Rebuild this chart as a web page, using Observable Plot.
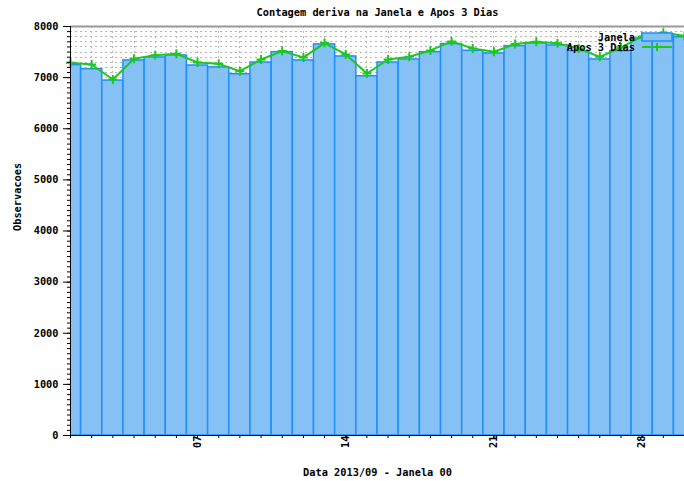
<!DOCTYPE html>
<html>
<head>
<meta charset="utf-8">
<script src="https://cdn.jsdelivr.net/npm/d3@7"></script>
<script src="https://cdn.jsdelivr.net/npm/@observablehq/plot@0.6"></script>
<style>
  html, body { margin: 0; padding: 0; background: white; }
  svg { display: block; }
</style>
</head>
<body>
<div id="chart"></div>
<script>
const days = d3.range(1, 31);
const janela = [7244, 7165, 6943, 7336, 7395, 7434, 7237, 7200, 7067, 7296,
                7499, 7336, 7650, 7414, 7028, 7296, 7355, 7499, 7656, 7525,
                7473, 7617, 7670, 7630, 7520, 7355, 7520, 7765, 7846, 7790];
const apos3 = [7290, 7257, 6963, 7368, 7440, 7467, 7296, 7270, 7126, 7355,
               7519, 7395, 7676, 7453, 7080, 7355, 7407, 7532, 7709, 7571,
               7505, 7656, 7702, 7670, 7570, 7407, 7590, 7805, 7878, 7815];
const xMajorTicks = [7, 14, 21, 28];
const yMajorTicks = d3.range(0, 8001, 1000);
const yMinorTicks = d3.range(0, 8001, 100);
const seriesNames = ["Janela", "Apos 3 Dias"];
const title = "Contagem deriva na Janela e Apos 3 Dias";
const xLabel = "Data 2013/09 - Janela 00";
const yLabel = "Observacoes";

const barColor = "#1e8fff";
const barFill = "#86c1f5";
const lineColor = "#1cc81c";

const table = days.map((d, i) => ({day: d, janela: janela[i], apos: apos3[i]}));
const font = "DejaVu Sans Mono";
const fs = 10.3;

const chart = Plot.plot({
  width: 684,
  height: 481,
  marginLeft: 70,
  marginRight: 0,
  marginTop: 26,
  marginBottom: 46,
  style: {fontFamily: font, fontWeight: "bold", fontSize: fs + "px", background: "white", color: "black"},
  x: {domain: [1, 30]},
  y: {domain: [0, 8000]},
  marks: [
    Plot.gridY(yMinorTicks, {stroke: "#b8b8b8", strokeOpacity: 1, strokeDasharray: "2,3", shapeRendering: "crispEdges"}),
    Plot.gridX(days, {stroke: "#b8b8b8", strokeOpacity: 1, strokeDasharray: "2,3", shapeRendering: "crispEdges"}),
    Plot.rectY(table, {x1: d => d.day - 0.5, x2: d => d.day + 0.5, y: "janela",
      fill: barFill, stroke: barColor, strokeWidth: 1.5, clip: true}),
    Plot.line(table, {x: "day", y: "apos", stroke: lineColor, strokeWidth: 2, clip: true}),
    Plot.dot(table, {x: "day", y: "apos", symbol: "plus", stroke: lineColor, strokeWidth: 2, r: 3}),
    Plot.ruleY([8000], {stroke: "#999", strokeWidth: 2}),
    Plot.ruleY([0], {stroke: "black", strokeWidth: 1}),
    Plot.ruleX([1], {stroke: "black", strokeWidth: 1}),
    Plot.axisY(yMajorTicks, {tickSize: 7, tickPadding: 5, tickFormat: d => String(d), label: null,
      fontFamily: font, fontWeight: "bold", fontSize: fs}),
    Plot.axisY(yMinorTicks, {tickSize: 3, tickFormat: () => "", label: null}),
    Plot.axisX(days, {tickSize: 3, tickFormat: () => "", label: null}),
    Plot.axisX(xMajorTicks, {tickSize: 3, tickPadding: -3, tickRotate: -90, tickFormat: d3.format("02d"),
      label: null, fontFamily: font, fontWeight: "bold", fontSize: fs}),
    Plot.text([title], {frameAnchor: "top", dy: -14, lineAnchor: "middle", fontFamily: font, fontWeight: "bold", fontSize: fs}),
    Plot.text([xLabel], {frameAnchor: "bottom", dy: 37, lineAnchor: "middle", fontFamily: font, fontWeight: "bold", fontSize: fs}),
    Plot.text([yLabel], {frameAnchor: "left", dx: -53, rotate: -90, fontFamily: font, fontWeight: "bold", fontSize: fs})
  ]
});

const svg = d3.select(chart);

// legend (key), top right
const key = svg.append("g").attr("font-family", font).attr("font-weight", "bold").attr("font-size", fs);
key.append("text").attr("x", 635).attr("y", 37).attr("dy", "0.35em").attr("text-anchor", "end").text(seriesNames[0]);
key.append("rect").attr("x", 642).attr("y", 33).attr("width", 30).attr("height", 8)
  .attr("fill", barFill).attr("stroke", barColor).attr("stroke-width", 1.5);
key.append("text").attr("x", 635).attr("y", 47.5).attr("dy", "0.35em").attr("text-anchor", "end").text(seriesNames[1]);
key.append("line").attr("x1", 642).attr("x2", 672).attr("y1", 47).attr("y2", 47)
  .attr("stroke", lineColor).attr("stroke-width", 2);
key.append("path").attr("d", "M653,47h8M657,43v8").attr("stroke", lineColor).attr("stroke-width", 2);

document.getElementById("chart").appendChild(chart);
</script>
</body>
</html>
